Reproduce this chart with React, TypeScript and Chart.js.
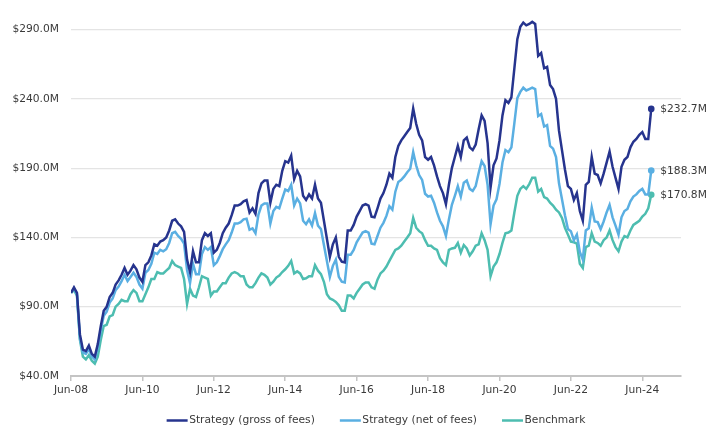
import React, { useEffect, useRef } from 'react';
import { Chart, registerables } from 'chart.js';

Chart.register(...registerables);

// ---- data (monthly, Jun-08 .. Sep-24) ----
const xTickLabels = ['Jun-08', 'Jun-10', 'Jun-12', 'Jun-14', 'Jun-16', 'Jun-18', 'Jun-20', 'Jun-22', 'Jun-24'];
const monthsPerTick = 24;
const xAxisMaxMonth = 205;
const yTicks = [40, 90, 140, 190, 240, 290];
const yMin = 40;
const yMax = 298;
const seriesNames = ['Strategy (gross of fees)', 'Strategy (net of fees)', 'Benchmark'];

const gross = [
  100, 104, 100, 70, 59, 58, 62, 56, 54, 63,
  76, 87, 90, 97, 100, 106, 109, 113, 118, 113,
  116, 120, 117, 111, 108, 120, 122, 127, 135, 134,
  137, 138, 140, 145, 152, 153, 150, 148, 144, 124,
  115, 130, 122, 122, 138, 143, 141, 143, 129, 131,
  136, 143, 147, 150, 156, 163, 163, 164, 166, 167,
  158, 161, 157, 172, 179, 181, 181, 165, 175, 178,
  177, 188, 195, 194, 199, 182, 188, 184, 170, 167,
  171, 168, 178, 168, 165, 152, 139, 126, 135, 140,
  126, 122.5, 122, 145, 145, 149, 155, 159, 163, 164,
  163, 155, 154.5, 161, 168, 172, 178, 186, 183, 198,
  206, 210, 213, 216, 219, 233, 222, 214, 210, 198,
  196, 198, 192, 184, 177, 172, 164, 178, 190, 198,
  206, 198, 210, 212, 205, 203, 207, 218, 228, 224,
  208, 176, 192, 197, 210, 228, 239, 237, 241, 262,
  283, 292, 295, 293, 294, 295.5, 294, 271, 273, 262,
  263, 250, 247, 240, 217, 203, 189, 177, 175, 167,
  172, 159, 152, 178, 180, 198, 186, 185, 179, 186,
  194, 202, 191, 183, 175, 191, 196, 198, 205, 209,
  211, 214, 216, 211, 211, 232.7,
];

const net = [
  100, 103, 99, 67, 57, 56, 59.5, 54, 52, 60.5,
  73, 83.5, 86.5, 93, 96, 102, 104.5, 108.5, 113, 108.5,
  111.5, 114.5, 111.5, 106, 103, 114.5, 116.5, 121, 129, 128,
  131, 130, 131.5, 136, 143, 144, 141, 139, 135.5, 116.5,
  107, 121, 113.5, 113.5, 128, 133, 131, 133, 120, 122,
  126.5, 131.5, 135, 138, 143.5, 150, 150, 151, 153, 153.5,
  145.5, 146.5, 143, 156.5, 163, 164.5, 164.5, 150, 159, 162,
  161, 168, 174.5, 173.5, 178, 163, 168, 164.5, 152, 149.5,
  153, 148.5, 157.5, 148.5, 146, 134.5, 123, 111.5, 119.5, 124,
  111.5, 108, 107.5, 127.5, 127.5, 131, 136.5, 140, 143.5, 144.5,
  143.5, 135.5, 135, 141, 147, 150.5, 155.5, 162.5, 160, 173,
  180, 181.5, 184, 187, 189.5, 201.5, 192, 185, 181.5, 171.5,
  169.5, 170, 165, 158, 152, 148, 141, 153, 163.5, 170,
  177, 169.5, 179.5, 181, 175, 173.5, 177, 186.5, 195, 191.5,
  178, 149.5, 163, 167.5, 178.5, 194, 203, 201.5, 205, 222.5,
  240.5, 245, 248, 246, 247, 248, 247, 227.5, 229, 220,
  221, 206, 204, 198, 179, 167.5, 156, 146, 144.5, 138,
  142, 129.5, 124, 145, 146.5, 161.5, 151.5, 151, 146, 151.5,
  158, 163.5, 154.5, 148.5, 142, 154.5, 159, 160.5, 166, 169.5,
  171, 173.5, 175, 171, 171, 188.3,
];

const bench = [
  100, 102, 98, 66, 54, 52, 55, 51, 49, 54,
  66, 76, 77, 83, 84, 90, 92, 95, 94, 94,
  99, 102, 100, 94, 94, 99, 104, 110, 110, 115,
  114, 114, 116, 118, 123, 120, 119, 118, 110, 92,
  103, 98, 97, 104, 112, 111, 110, 98, 101, 101,
  104, 107, 107, 111, 114, 115, 114, 112, 112, 106,
  104, 104, 107, 111, 114, 113, 111, 106, 108, 111,
  112.5, 115, 117, 119.5, 123, 114, 115.5, 114, 110, 110.5,
  112, 112, 120, 116, 113.5, 108, 99, 96, 95, 93.5,
  91, 87, 87, 98, 98, 96, 100, 103, 106, 107.5,
  107.5, 104, 103, 109.5, 114, 116, 119, 123, 127, 131,
  132, 134, 137, 140, 143, 154, 147, 144.5, 143, 138,
  134, 134, 132, 131, 125, 122, 120, 131, 132, 132.5,
  136, 129, 134.5, 132, 127, 130, 134, 135, 143, 138,
  131, 112, 119, 122, 128, 136, 143, 143.5, 145, 158,
  170, 175, 177, 175, 178.5, 183, 183, 173, 175, 169,
  168, 165, 163, 160, 158, 154, 147, 142, 137, 136.5,
  135.5, 121, 118, 133, 134, 143, 137, 136, 134, 138,
  140, 145, 138, 133, 130, 137, 141, 140, 145, 149,
  150.5, 152, 155, 157, 161, 170.8,
];

const seriesValues = [gross, net, bench];
const colors = ['#26348e', '#5aafe2', '#4dbdb0'];

const FONT = '"DejaVu Sans", Verdana, sans-serif';
const FONT_SIZE = 10.7;
const TEXT_COLOR = '#3a3a3a';

const fmtMoney = (v: number) => '$' + v.toFixed(1) + 'M';

const endLabelPlugin = {
  id: 'endLabels',
  afterDatasetsDraw(chart: any) {
    const ctx = chart.ctx;
    ctx.save();
    ctx.font = `${FONT_SIZE}px ${FONT}`;
    ctx.fillStyle = TEXT_COLOR;
    ctx.textBaseline = 'middle';
    ctx.textAlign = 'left';
    chart.data.datasets.forEach((ds: any, i: number) => {
      const meta = chart.getDatasetMeta(i);
      const last = meta.data[meta.data.length - 1];
      if (!last) return;
      const v = ds.data[ds.data.length - 1].y;
      ctx.fillText(fmtMoney(v), last.x + 9, last.y + 0.5);
    });
    ctx.restore();
  },
};

const legendPlugin = {
  id: 'bottomLegend',
  afterDraw(chart: any) {
    const ctx = chart.ctx;
    const ca = chart.chartArea;
    ctx.save();
    ctx.font = `${FONT_SIZE}px ${FONT}`;
    const lineW = 21;
    const textGap = 1.5;
    const itemGap = 25;
    const widths = seriesNames.map((n) => ctx.measureText(n).width);
    const total =
      widths.reduce((a, w) => a + lineW + textGap + w, 0) + itemGap * (seriesNames.length - 1);
    let x = (ca.left + ca.right) / 2 - total / 2;
    const y = chart.height - 6.5;
    seriesNames.forEach((name, i) => {
      ctx.strokeStyle = colors[i];
      ctx.lineWidth = 2.5;
      ctx.beginPath();
      ctx.moveTo(x, y);
      ctx.lineTo(x + lineW, y);
      ctx.stroke();
      ctx.fillStyle = TEXT_COLOR;
      ctx.textBaseline = 'middle';
      ctx.textAlign = 'left';
      ctx.fillText(name, x + lineW + textGap, y);
      x += lineW + textGap + widths[i] + itemGap;
    });
    ctx.restore();
  },
};

export default function App() {
  const canvasRef = useRef<HTMLCanvasElement | null>(null);

  useEffect(() => {
    document.body.style.margin = '0';
    const canvas = canvasRef.current;
    if (!canvas) return;
    const lastIdx = gross.length - 1;
    const chart = new Chart(canvas, {
      type: 'line',
      data: {
        datasets: seriesNames.map((name, i) => ({
          label: name,
          data: seriesValues[i].map((v, m) => ({ x: m, y: v })),
          borderColor: colors[i],
          backgroundColor: colors[i],
          borderWidth: 2.5,
          tension: 0,
          pointRadius: (c: any) => (c.dataIndex === lastIdx ? 3.3 : 0),
          pointHoverRadius: 0,
          pointBorderWidth: 0,
          pointBackgroundColor: colors[i],
          fill: false,
        })),
      },
      options: {
        responsive: false,
        animation: false,
        devicePixelRatio: 1,
        layout: { padding: { left: 0, right: 28, top: 8, bottom: 0 } },
        plugins: {
          legend: { display: false },
          tooltip: { enabled: false },
        },
        scales: {
          x: {
            type: 'linear',
            min: 0,
            max: xAxisMaxMonth,
            afterBuildTicks: (scale: any) => {
              scale.ticks = xTickLabels.map((_, i) => ({ value: i * monthsPerTick }));
            },
            afterFit: (scale: any) => {
              scale.height = 51;
            },
            ticks: {
              autoSkip: false,
              maxRotation: 0,
              padding: 3,
              color: TEXT_COLOR,
              font: { family: FONT, size: FONT_SIZE },
              callback: (_v: any, i: number) => xTickLabels[i],
            },
            grid: {
              drawOnChartArea: false,
              drawTicks: true,
              tickLength: 5,
              color: '#c4c4c4',
              lineWidth: 1.5,
            },
            border: { display: true, color: '#c4c4c4', width: 2 },
          },
          y: {
            type: 'linear',
            min: yMin,
            max: yMax,
            afterBuildTicks: (scale: any) => {
              scale.ticks = yTicks.map((v) => ({ value: v }));
            },
            afterFit: (scale: any) => {
              scale.width = 71;
            },
            ticks: {
              padding: 12,
              color: TEXT_COLOR,
              font: { family: FONT, size: FONT_SIZE },
              callback: (v: any) => fmtMoney(Number(v)),
            },
            grid: {
              drawTicks: false,
              color: '#e4e4e4',
              lineWidth: 1.2,
            },
            border: { display: false },
          },
        },
      },
      plugins: [endLabelPlugin, legendPlugin],
    } as any);
    return () => chart.destroy();
  }, []);

  return (
    <div style={{ width: 709, height: 427 }}>
      <canvas ref={canvasRef} width={709} height={427} style={{ display: 'block' }} />
    </div>
  );
}
